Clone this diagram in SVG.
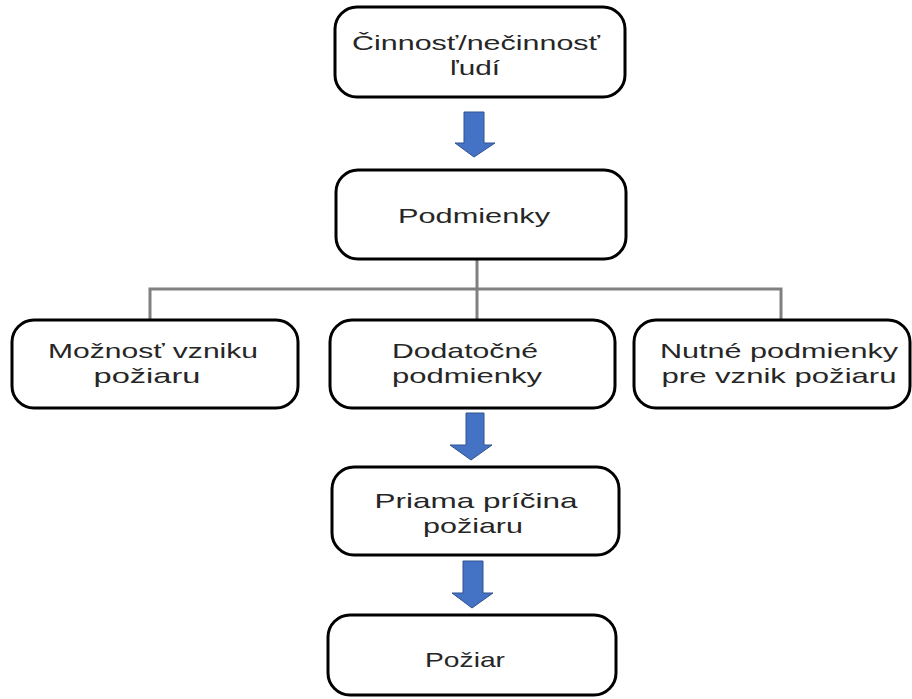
<svg xmlns="http://www.w3.org/2000/svg" width="912" height="699" viewBox="0 0 912 699">
<style>
.box{fill:#fff;stroke:#000;stroke-width:3}
.t{font-family:"Liberation Sans",Arial,sans-serif;font-size:21px;fill:#262626;text-anchor:middle}
.arr{fill:#4472C4;stroke:#2F528F;stroke-width:1}
.conn{fill:none;stroke:#808080;stroke-width:3}
</style>
<rect width="912" height="699" fill="#fff"/>
<g id="connectors">
<polyline class="conn" points="477,259 477,320"/>
<polyline class="conn" points="150,320 150,289 781,289 781,320"/>
<path class="arr" d="M464,112 H484 V143 H495 L474,157 L455,143 H464 Z"/>
<path class="arr" d="M466,413 H484 V445 H492 L471,460 L450,445 H466 Z"/>
<path class="arr" d="M463,561 H483 V593 H493 L472,608 L452,593 H463 Z"/>
</g>
<g id="n1"><rect class="box" x="335" y="7" width="290" height="90" rx="22"/>
<text class="t" x="476" y="50" textLength="248" lengthAdjust="spacingAndGlyphs">Činnosť/nečinnosť</text>
<text class="t" x="475" y="75" textLength="50" lengthAdjust="spacingAndGlyphs">ľudí</text></g>
<g id="n2"><rect class="box" x="336" y="170" width="290" height="89" rx="22"/>
<text class="t" x="474" y="223" textLength="152" lengthAdjust="spacingAndGlyphs">Podmienky</text></g>
<g id="n3"><rect class="box" x="12" y="320" width="286" height="88" rx="22"/>
<text class="t" x="153" y="358" textLength="210" lengthAdjust="spacingAndGlyphs">Možnosť vzniku</text>
<text class="t" x="147" y="383" textLength="107" lengthAdjust="spacingAndGlyphs">požiaru</text></g>
<g id="n4"><rect class="box" x="330" y="320" width="285" height="88" rx="22"/>
<text class="t" x="465" y="358" textLength="146" lengthAdjust="spacingAndGlyphs">Dodatočné</text>
<text class="t" x="467" y="383" textLength="150" lengthAdjust="spacingAndGlyphs">podmienky</text></g>
<g id="n5"><rect class="box" x="634" y="320" width="276" height="88" rx="22"/>
<text class="t" x="779" y="358" textLength="238" lengthAdjust="spacingAndGlyphs">Nutné podmienky</text>
<text class="t" x="779" y="383" textLength="235" lengthAdjust="spacingAndGlyphs">pre vznik požiaru</text></g>
<g id="n6"><rect class="box" x="332" y="467" width="287" height="88" rx="22"/>
<text class="t" x="476" y="508" textLength="203" lengthAdjust="spacingAndGlyphs">Priama príčina</text>
<text class="t" x="473" y="533" textLength="100" lengthAdjust="spacingAndGlyphs">požiaru</text></g>
<g id="n7"><rect class="box" x="328" y="615" width="288" height="80" rx="22"/>
<text class="t" x="465" y="667" textLength="80" lengthAdjust="spacingAndGlyphs">Požiar</text></g>
</svg>
